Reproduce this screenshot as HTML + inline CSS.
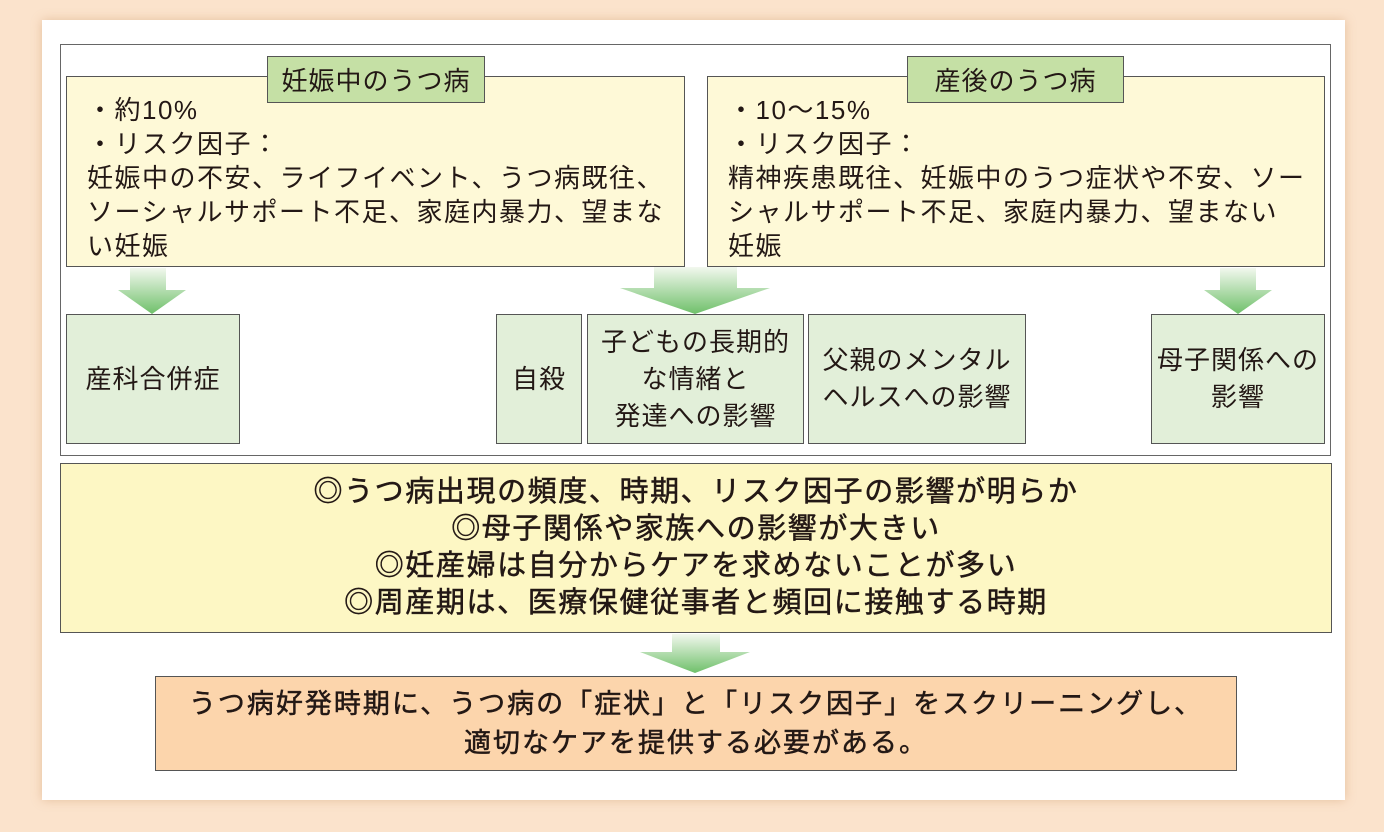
<!DOCTYPE html>
<html><head><meta charset="utf-8"><style>
body{margin:0;width:1384px;height:832px;background:#fbe3cc;position:relative;overflow:hidden;font-family:"Liberation Sans","Noto Sans CJK JP",sans-serif;color:#231815}
.a{position:absolute;box-sizing:border-box}
.y{background:#fef9d7;border:1.5px solid #555}
.g{background:#e2efd9;border:1.5px solid #555;display:flex;align-items:center;justify-content:center;text-align:center;font-size:26px;letter-spacing:1px;line-height:37px}
.lb{background:#c5e0a5;border:1.5px solid #555;font-size:26px;letter-spacing:1px;display:flex;align-items:center;justify-content:center}
.t{font-size:26px;letter-spacing:1.5px;line-height:34px;padding:16px 0 0 20px;white-space:nowrap}
</style></head><body>
<div class="a" style="left:42px;top:20px;width:1303px;height:780px;background:#fff;box-shadow:0 0 10px rgba(200,140,90,.4)"></div>
<div class="a" style="left:60px;top:44px;width:1271px;height:412px;border:1px solid #666"></div>

<div class="a y t" style="left:66px;top:76px;width:619px;height:191px">・約10%<br>・リスク因子：<br>妊娠中の不安、ライフイベント、うつ病既往、<br>ソーシャルサポート不足、家庭内暴力、望まな<br>い妊娠</div>
<div class="a lb" style="left:267px;top:56px;width:218px;height:47px">妊娠中のうつ病</div>
<div class="a y t" style="left:707px;top:76px;width:618px;height:191px">・10～15%<br>・リスク因子：<br>精神疾患既往、妊娠中のうつ症状や不安、ソー<br>シャルサポート不足、家庭内暴力、望まない<br>妊娠</div>
<div class="a lb" style="left:907px;top:56px;width:217px;height:47px">産後のうつ病</div>

<svg class="a" style="left:0;top:0" width="1384" height="832">
<defs><linearGradient id="gr" x1="0" y1="0" x2="0" y2="1"><stop offset="0" stop-color="#f2f8ee"/><stop offset="1" stop-color="#6fc06a"/></linearGradient></defs>
<g fill="url(#gr)">
<path d="M130 268h36v22h20l-34 24l-34-24h12z" />
<path d="M654 267h83v21h33l-75 26l-75-26h34z"/>
<path d="M1220 268h36v22h16l-34 24l-34-24h16z"/>
<path d="M672 634h48v18h30l-55 21l-55-21h32z"/>
</g></svg>

<div class="a g" style="left:66px;top:314px;width:174px;height:130px">産科合併症</div>
<div class="a g" style="left:496px;top:314px;width:86px;height:130px">自殺</div>
<div class="a g" style="left:587px;top:314px;width:217px;height:130px">子どもの長期的<br>な情緒と<br>発達への影響</div>
<div class="a g" style="left:808px;top:314px;width:218px;height:130px">父親のメンタル<br>ヘルスへの影響</div>
<div class="a g" style="left:1151px;top:314px;width:174px;height:130px">母子関係への<br>影響</div>

<div class="a" style="left:60px;top:463px;width:1272px;height:170px;background:#fdf7c4;border:1.5px solid #555;text-align:center;font-size:29px;letter-spacing:1.6px;-webkit-text-stroke:0.5px #231815;line-height:37px;padding-top:10px;white-space:nowrap">◎うつ病出現の頻度、時期、リスク因子の影響が明らか<br>◎母子関係や家族への影響が大きい<br>◎妊産婦は自分からケアを求めないことが多い<br>◎周産期は、医療保健従事者と頻回に接触する時期</div>

<div class="a" style="left:155px;top:676px;width:1082px;height:95px;background:#fcd5ac;border:1.5px solid #555;text-align:center;font-size:27px;letter-spacing:2px;-webkit-text-stroke:0.5px #231815;line-height:39px;padding-top:8px;white-space:nowrap">うつ病好発時期に、うつ病の「症状」と「リスク因子」をスクリーニングし、<br>適切なケアを提供する必要がある。</div>
</body></html>
